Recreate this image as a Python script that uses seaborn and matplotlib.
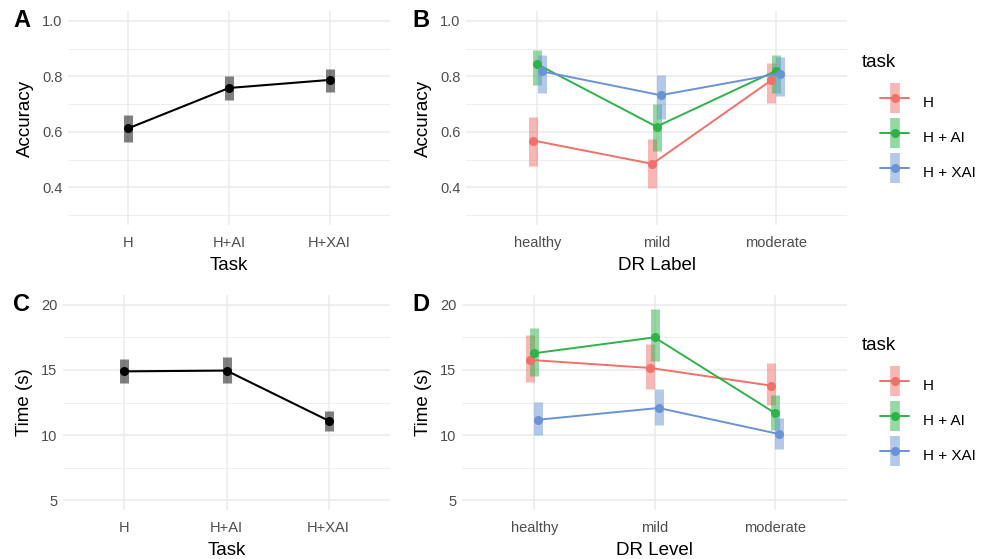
import numpy as np
import matplotlib.pyplot as plt
import seaborn as sns
from matplotlib.lines import Line2D
from matplotlib.legend_handler import HandlerTuple

# ------------------------------------------------------------------
# data
# ------------------------------------------------------------------
tasks = ['H', 'H+AI', 'H+XAI']
levels = ['healthy', 'mild', 'moderate']
hue_names = ['H', 'H + AI', 'H + XAI']
hue_colors = ['#F0706A', '#2DB34A', '#6A93D6']

acc_mean = [0.613, 0.758, 0.787]
acc_low = [0.563, 0.715, 0.745]
acc_high = [0.660, 0.800, 0.825]

time_mean = [14.89, 14.95, 11.10]
time_low = [13.98, 14.00, 10.33]
time_high = [15.85, 15.97, 11.87]

# per task (H, H + AI, H + XAI), one value per DR level
acc_lvl_mean = [[0.569, 0.485, 0.786], [0.843, 0.619, 0.819], [0.818, 0.732, 0.810]]
acc_lvl_low = [[0.479, 0.399, 0.705], [0.768, 0.530, 0.740], [0.740, 0.648, 0.729]]
acc_lvl_high = [[0.652, 0.574, 0.849], [0.896, 0.700, 0.875], [0.875, 0.803, 0.869]]

time_lvl_mean = [[15.77, 15.15, 13.80], [16.28, 17.50, 11.70], [11.18, 12.08, 10.08]]
time_lvl_low = [[14.05, 13.50, 12.30], [14.50, 15.66, 10.40], [10.00, 10.80, 8.92]]
time_lvl_high = [[17.70, 17.00, 15.50], [18.20, 19.70, 13.10], [12.56, 13.54, 11.28]]

# ------------------------------------------------------------------
# style
# ------------------------------------------------------------------
sns.set_theme(style='white')
plt.rcParams['font.family'] = ['Liberation Sans', 'DejaVu Sans']
plt.rcParams['text.color'] = 'black'
plt.rcParams['axes.labelcolor'] = 'black'

W, H = 989, 559
fig = plt.figure(figsize=(W / 100, H / 100), dpi=100)


def px_axes(x0, x1, y0, y1):
    return fig.add_axes([x0 / W, 1 - y1 / H, (x1 - x0) / W, (y1 - y0) / H])


def style_axes(ax, ylim, majors, minors, xlabels, xlabel, ylabel):
    ax.set_xlim(-0.6, len(xlabels) - 0.4)
    ax.set_ylim(*ylim)
    ax.set_xticks(range(len(xlabels)))
    ax.set_xticklabels(xlabels)
    ax.set_yticks(majors)
    ax.set_yticks(minors, minor=True)
    ax.grid(True, which='major', color='#EBEBEB', linewidth=1.1)
    ax.grid(True, which='minor', axis='y', color='#EBEBEB', linewidth=0.6)
    ax.set_axisbelow(True)
    for s in ax.spines.values():
        s.set_visible(False)
    ax.tick_params(axis='both', which='both', length=0, labelsize=10.5,
                   labelcolor='#4D4D4D', pad=4)
    ax.tick_params(axis='x', pad=8)
    ax.set_xlabel(xlabel, fontsize=13.5, labelpad=5)
    ax.set_ylabel(ylabel, fontsize=13.5, labelpad=6)
    ax.set_facecolor('white')


def overall_panel(ax, mean, low, high):
    x = np.arange(len(mean))
    ax.vlines(x, low, high, color='black', alpha=0.5, linewidth=6.5, zorder=2)
    sns.lineplot(x=x, y=mean, color='black', linewidth=1.5, marker='o',
                 markersize=6.5, markeredgewidth=0, ax=ax, zorder=3)


def level_panel(ax, means, lows, highs, dodge=0.035):
    x = np.arange(len(levels))
    for i, (lo, hi) in enumerate(zip(lows, highs)):
        xi = x + (i - 1) * dodge
        ax.vlines(xi, lo, hi, color=hue_colors[i], alpha=0.5, linewidth=6.5, zorder=2)
    for i, m in enumerate(means):
        xi = x + (i - 1) * dodge
        sns.lineplot(x=xi, y=m, color=hue_colors[i], linewidth=1.4, marker='o',
                     markersize=6.5, markeredgewidth=0, ax=ax, zorder=3 + i)


axA = px_axes(68, 390, 11, 225)
overall_panel(axA, acc_mean, acc_low, acc_high)
style_axes(axA, (0.265, 1.035), [0.4, 0.6, 0.8, 1.0], [0.3, 0.5, 0.7, 0.9],
           tasks, 'Task', 'Accuracy')

axB = px_axes(466, 847, 11, 225)
level_panel(axB, acc_lvl_mean, acc_lvl_low, acc_lvl_high)
style_axes(axB, (0.265, 1.035), [0.4, 0.6, 0.8, 1.0], [0.3, 0.5, 0.7, 0.9],
           levels, 'DR Label', 'Accuracy')

axC = px_axes(63, 390, 295, 510)
overall_panel(axC, time_mean, time_low, time_high)
style_axes(axC, (4.25, 20.75), [5, 10, 15, 20], [7.5, 12.5, 17.5],
           tasks, 'Task', 'Time (s)')

axD = px_axes(462, 847, 295, 510)
level_panel(axD, time_lvl_mean, time_lvl_low, time_lvl_high)
style_axes(axD, (4.25, 20.75), [5, 10, 15, 20], [7.5, 12.5, 17.5],
           levels, 'DR Level', 'Time (s)')

# panel letters
for letter, (lx, ly) in zip('ABCD', [(13, 9), (412, 9), (13, 293), (412, 293)]):
    fig.text(lx / W, 1 - ly / H, letter, fontsize=17, fontweight='bold',
             ha='left', va='top')


# legends
def legend_handles():
    hs = []
    for c in hue_colors:
        bar = Line2D([], [], marker='|', linestyle='None', color=c, alpha=0.5,
                     markersize=22, markeredgewidth=7)
        line = Line2D([], [], color=c, linewidth=1.4, marker='o', markersize=6.5,
                      markeredgewidth=0)
        hs.append((bar, line))
    return hs


for ytitle, ytop in ((62, 90), (345, 373)):
    fig.text(862 / W, 1 - ytitle / H, 'task', fontsize=13.5, ha='left', va='center')
    fig.legend(legend_handles(), hue_names,
               handler_map={tuple: HandlerTuple(ndivide=1)},
               loc='upper left', bbox_to_anchor=(880 / W, 1 - ytop / H),
               frameon=False, fontsize=11, borderpad=0, borderaxespad=0,
               handlelength=1.9, handleheight=2.0, labelspacing=0.75,
               handletextpad=0.9)

fig.savefig('out.png', dpi=100)
